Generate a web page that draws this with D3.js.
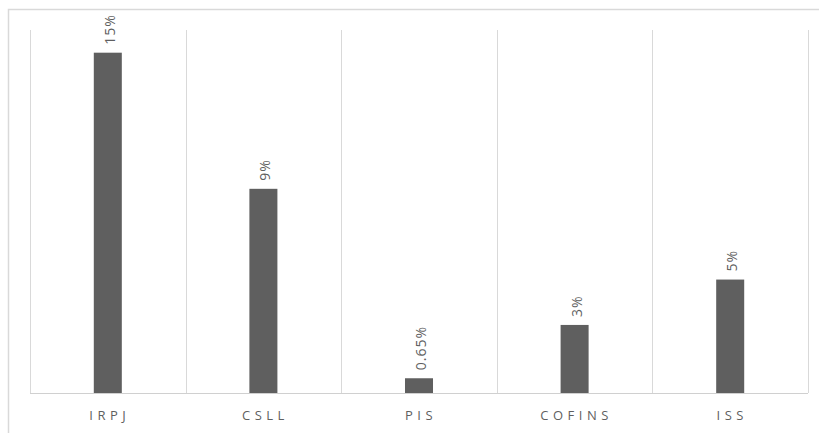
<!DOCTYPE html>
<html>
<head>
<meta charset="utf-8">
<script src="https://cdn.jsdelivr.net/npm/d3@7"></script>
<style>
  body { margin: 0; background: #fff; }
  text { font-family: "Open Sans", "DejaVu Sans", sans-serif; fill: #5f5f5f; }
</style>
</head>
<body>
<div class="container"></div>
<script>
var categories = ["IRPJ", "CSLL", "PIS", "COFINS", "ISS"];
var values = [15, 9, 0.65, 3, 5];
var valueLabels = ["15%", "9%", "0.65%", "3%", "5%"];

var width = 819,
    height = 433,
    margin = {top: 30, right: 11, bottom: 40, left: 30};

var svg = d3.select("div.container").append("svg")
    .attr("width", width)
    .attr("height", height);

// outer frame (only top and left edges visible)
svg.append("path")
    .attr("d", "M8.5,433V9.5H819")
    .attr("fill", "none")
    .attr("stroke", "#d9d9d9")
    .attr("stroke-width", 1.5);

var x = d3.scaleBand()
    .domain(categories)
    .range([margin.left, width - margin.right])
    .paddingInner(0.82)
    .paddingOuter(0.41);

var y = d3.scaleLinear()
    .domain([0, 16])
    .range([height - margin.bottom, margin.top]);

// category separators
var step = x.step();
var seps = d3.range(categories.length + 1).map(function(i) { return margin.left + i * step; });
svg.selectAll(".sep")
    .data(seps)
    .enter().append("line")
    .attr("class", "sep")
    .attr("x1", function(d) { return Math.round(d) + 0.5; })
    .attr("x2", function(d) { return Math.round(d) + 0.5; })
    .attr("y1", y(16))
    .attr("y2", y(0))
    .attr("stroke", "#d9d9d9");

svg.append("line")
    .attr("x1", margin.left)
    .attr("x2", width - margin.right)
    .attr("y1", y(0) + 0.5)
    .attr("y2", y(0) + 0.5)
    .attr("stroke", "#d0d0d0");

svg.selectAll(".bar")
    .data(values)
    .enter().append("rect")
    .attr("class", "bar")
    .attr("x", function(d, i) { return x(categories[i]); })
    .attr("width", x.bandwidth())
    .attr("y", function(d) { return y(d); })
    .attr("height", function(d) { return y(0) - y(d); })
    .attr("fill", "#5f5f5f");

svg.selectAll(".vlabel")
    .data(values)
    .enter().append("text")
    .attr("class", "vlabel")
    .attr("transform", function(d, i) {
        return "translate(" + (x(categories[i]) + x.bandwidth() / 2 + 7) + "," + (y(d) - 8) + ") rotate(-90)";
    })
    .attr("font-size", "14px")
    .attr("letter-spacing", "1px")
    .text(function(d, i) { return valueLabels[i]; });

svg.selectAll(".cat")
    .data(categories)
    .enter().append("text")
    .attr("class", "cat")
    .attr("x", function(d) { return x(d) + x.bandwidth() / 2 + 2; })
    .attr("y", 420)
    .attr("text-anchor", "middle")
    .attr("font-size", "13px")
    .attr("letter-spacing", "4.5px")
    .text(function(d) { return d; });
</script>
</body>
</html>
